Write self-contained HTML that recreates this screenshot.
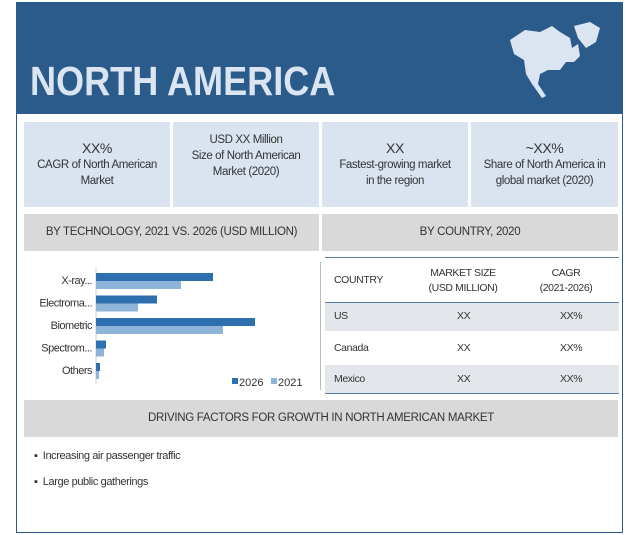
<!DOCTYPE html>
<html><head><meta charset="utf-8"><style>
*{margin:0;padding:0;box-sizing:border-box}
body{width:628px;height:535px;background:#fff;font-family:"Liberation Sans",sans-serif;position:relative;overflow:hidden;color:#333}
.abs{position:absolute}
.box{position:absolute;background:#d9e4f0;text-align:center;font-size:11.5px;line-height:16px;letter-spacing:-0.4px;color:#333;padding-top:17px}
.box b{font-weight:normal;font-size:14px;display:block;line-height:18px}
.gray{position:absolute;background:#d9d9d9;font-size:11.5px;letter-spacing:-0.3px;text-align:center;color:#333}
.cell{position:absolute;font-size:10.5px;letter-spacing:-0.4px;color:#333}
</style></head><body>
<div class="abs" style="left:16px;top:2px;width:607px;height:531px;border:1.5px solid #2b5b8a;border-top:none"></div>
<div class="abs" style="left:16px;top:2px;width:607px;height:112px;background:#2b5b8a"></div>
<div class="abs" style="left:30px;top:58px;font-size:41px;font-weight:bold;color:#dbe5f1;transform:scaleX(0.88);transform-origin:left">NORTH AMERICA</div>
<svg class="abs" style="left:500px;top:18px" width="110" height="85" viewBox="0 0 110 85">
<path d="M10 22 L25 12 L40 14 L52 8 L60 14 L70 20 L72 30 L78 26 L80 38 L74 44 L66 44 L60 52 L48 52 L40 56 L38 66 L46 78 L42 80 L32 66 L26 56 L24 42 L14 36 Z" fill="#dbe5f1"/>
<path d="M74 8 L90 4 L100 10 L96 24 L86 30 L78 20 Z" fill="#dbe5f1"/>
</svg>
<div class="box" style="left:24px;top:122px;width:146px;height:85px"><b>XX%</b>CAGR of North American<br>Market</div>
<div class="box" style="left:173px;top:122px;width:146px;height:85px;padding-top:10px">USD XX Million<br>Size of North American<br>Market (2020)</div>
<div class="box" style="left:322px;top:122px;width:146px;height:85px"><b>XX</b>Fastest-growing market<br>in the region</div>
<div class="box" style="left:471px;top:122px;width:147px;height:85px"><b>~XX%</b>Share of North America in<br>global market (2020)</div>
<div class="gray" style="left:24px;top:214px;width:295px;height:37px;line-height:37px">BY TECHNOLOGY, 2021 VS. 2026 (USD MILLION)</div>
<div class="gray" style="left:322px;top:214px;width:296px;height:37px;line-height:37px">BY COUNTRY, 2020</div>
<div class="abs" style="left:320px;top:262px;width:1px;height:128px;background:#bbb"></div>
<svg class="abs" id="chart" style="left:0;top:0" width="320" height="400"></svg>
<div class="abs" style="left:325px;top:257px;width:294px;height:1px;background:#5a7ea6"></div>
<div class="cell" style="left:334px;top:274px">COUNTRY</div>
<div class="cell" style="left:420px;top:266px;width:86px;text-align:center;line-height:15px">MARKET SIZE<br>(USD MILLION)</div>
<div class="cell" style="left:523px;top:266px;width:86px;text-align:center;line-height:15px">CAGR<br>(2021-2026)</div>
<div class="abs" style="left:325px;top:302px;width:294px;height:1px;background:#5a7ea6"></div>
<div class="abs" style="left:325px;top:303px;width:294px;height:28px;background:#e3e6ea"></div>
<div class="abs" style="left:325px;top:365px;width:294px;height:28px;background:#e3e6ea"></div>
<div class="abs" style="left:325px;top:393px;width:294px;height:1px;background:#5a7ea6"></div>
<div class="cell" style="left:334px;top:310px">US</div>
<div class="cell" style="left:457px;top:310px">XX</div>
<div class="cell" style="left:560px;top:310px">XX%</div>
<div class="cell" style="left:334px;top:342px">Canada</div>
<div class="cell" style="left:457px;top:342px">XX</div>
<div class="cell" style="left:560px;top:342px">XX%</div>
<div class="cell" style="left:334px;top:373px">Mexico</div>
<div class="cell" style="left:457px;top:373px">XX</div>
<div class="cell" style="left:560px;top:373px">XX%</div>
<div class="gray" style="left:24px;top:400px;width:594px;height:37px;line-height:37px">DRIVING FACTORS FOR GROWTH IN NORTH AMERICAN MARKET</div>
<div class="cell" style="left:34px;top:450px;font-size:11px">▪&nbsp;&nbsp;Increasing air passenger traffic</div>
<div class="cell" style="left:34px;top:476px;font-size:11px">▪&nbsp;&nbsp;Large public gatherings</div>
<script>
const categories=["X-ray...","Electroma...","Biometric","Spectrom...","Others"];
const values2026=[117,61,159,10,4];
const values2021=[85,42,127,8,3];
const seriesNames=["2026","2021"];
const svg=document.getElementById('chart');
const NS="http://www.w3.org/2000/svg";
const x0=96,pxPerUnit=1.0,yTop=273,step=22.5;
const xs=v=>x0+v*pxPerUnit;
const yc=i=>yTop+i*step;
function mk(t,a){const e=document.createElementNS(NS,t);for(const k in a)e.setAttribute(k,a[k]);svg.appendChild(e);return e;}
const ax=mk('line',{x1:x0,y1:268,x2:x0,y2:384,stroke:'#ccc'});


categories.forEach((c,i)=>{
 const t=mk('text',{x:x0-4,y:yc(i)+11,'text-anchor':'end','font-size':'11','font-family':'Liberation Sans, sans-serif',fill:'#333','letter-spacing':'-0.5'});
 t.textContent=c;
 
 
 const b1=mk('rect',{x:x0,y:yc(i),width:xs(values2026[i])-x0,height:8,fill:'#2e6fb0'});
 
 
 const b2=mk('rect',{x:x0,y:yc(i)+8,width:xs(values2021[i])-x0,height:8,fill:'#8eb4d9'});
 
 
});
const lg=[[232,'#2e6fb0',seriesNames[0]],[271,'#8eb4d9',seriesNames[1]]];
lg.forEach(l=>{
 const r=mk('rect',{x:l[0],y:378,width:6,height:6,fill:l[1]});
 
 
 const t=mk('text',{x:l[0]+7,y:386,'font-size':'11','font-family':'Liberation Sans, sans-serif',fill:'#333'});
 t.textContent=l[2];
 
 
});
</script>
</body></html>
